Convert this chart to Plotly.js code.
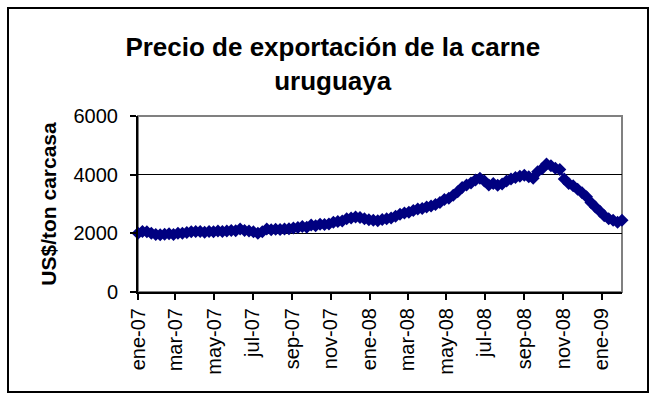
<!DOCTYPE html>
<html>
<head>
<meta charset="utf-8">
<script src="https://cdn.plot.ly/plotly-3.0.1.min.js"></script>
<style>
  html, body { margin: 0; padding: 0; background: #fff; }
  #chart { width: 655px; height: 400px; }
</style>
</head>
<body>
<div id="chart"></div>
<script>
// Weekly observations starting the first week of January 2007
const startDate = '2007-01-01';
const prices = [
  2000, 2060, 2050, 2000, 1960, 1950, 1970, 1990, 1960, 2000,
  2000, 2030, 2050, 2060, 2060, 2040, 2060, 2050, 2080, 2060,
  2080, 2100, 2090, 2150, 2100, 2080, 2050, 2000, 2050, 2150,
  2120, 2140, 2130, 2150, 2160, 2180, 2200, 2230, 2210, 2280,
  2260, 2310, 2300, 2320, 2380, 2400, 2420, 2500, 2520, 2560,
  2540, 2500, 2460, 2450, 2430, 2470, 2500, 2520, 2580, 2650,
  2690, 2720, 2780, 2830, 2850, 2900, 2930, 2980, 3050, 3150,
  3200, 3300, 3420, 3560, 3650, 3720, 3820, 3880, 3780, 3650,
  3700, 3640, 3680, 3780, 3850, 3900, 3950, 3980, 3930, 3880,
  4100, 4200, 4360, 4300, 4220, 4180, 3850, 3700, 3620, 3500,
  3380, 3250, 3050, 2900, 2750, 2600, 2500, 2450, 2380, 2450
];
const tickDates = ['2007-01-01','2007-03-01','2007-05-01','2007-07-01','2007-09-01','2007-11-01',
                   '2008-01-01','2008-03-01','2008-05-01','2008-07-01','2008-09-01','2008-11-01','2009-01-01'];
const tickLabels = ['ene-07','mar-07','may-07','jul-07','sep-07','nov-07',
                    'ene-08','mar-08','may-08','jul-08','sep-08','nov-08','ene-09'];
const yTicks = [0, 2000, 4000, 6000];

const titleText = 'Precio de exportación de la carne<br>uruguaya';
const yTitle = 'US$/ton carcasa';

// build weekly dates
const dates = [];
const d0 = new Date(startDate + 'T00:00:00Z');
for (let i = 0; i < prices.length; i++) {
  const d = new Date(d0.getTime() + i * 7 * 86400000);
  dates.push(d.toISOString().slice(0, 10));
}

const FONT = 'Liberation Sans, Arial, sans-serif';
const W = 655, H = 400;
const M = {l: 138, r: 33, t: 116, b: 108};
const pw = W - M.l - M.r, ph = H - M.t - M.b;
const px = x => (x - M.l) / pw;
const py = y => (H - M.b - y) / ph;

const trace = {
  x: dates, y: prices, type: 'scatter', mode: 'lines+markers',
  line: {color: '#000080', width: 2},
  marker: {symbol: 'diamond', size: 10, color: '#000080'},
  cliponaxis: false, hoverinfo: 'skip'
};

const layout = {
  width: W, height: H,
  margin: M,
  paper_bgcolor: '#fff', plot_bgcolor: '#fff',
  showlegend: false,
  font: {family: FONT, color: '#000', size: 20},
  title: {
    text: titleText,
    font: {family: FONT, size: 26, color: '#000', weight: 'bold'},
    xref: 'container', x: 0.508, xanchor: 'center',
    yref: 'container', y: 0.86, yanchor: 'top'
  },
  xaxis: {
    type: 'date',
    range: [dates[0], dates[dates.length - 1]],
    tickvals: tickDates, ticktext: tickLabels,
    tickangle: -90,
    ticks: 'outside', ticklen: 6, tickwidth: 2, tickcolor: '#000',
    showline: true, linecolor: '#000', linewidth: 2,
    showgrid: false, zeroline: false,
    tickfont: {family: FONT, size: 20, color: '#000'}
  },
  yaxis: {
    range: [0, 6000],
    tickvals: yTicks,
    ticks: 'outside', ticklen: 6, tickwidth: 2, tickcolor: '#000',
    ticklabelstandoff: 8,
    showline: true, linecolor: '#000', linewidth: 2,
    showgrid: true, gridcolor: '#000', gridwidth: 1,
    zeroline: false,
    tickfont: {family: FONT, size: 20, color: '#000'},
    title: {text: yTitle, font: {family: FONT, size: 21, color: '#000', weight: 'bold'}, standoff: 11}
  },
  shapes: [
    {type: 'rect', xref: 'paper', yref: 'paper', x0: 0, x1: 1, y0: 0, y1: 1,
     line: {color: '#808080', width: 2}, layer: 'below'},
    {type: 'rect', xref: 'paper', yref: 'paper',
     x0: px(8), x1: px(648), y0: py(392), y1: py(8),
     line: {color: '#000', width: 2}, fillcolor: 'rgba(0,0,0,0)'}
  ]
};

Plotly.newPlot('chart', [trace], layout, {staticPlot: true, displayModeBar: false});
</script>
</body>
</html>
